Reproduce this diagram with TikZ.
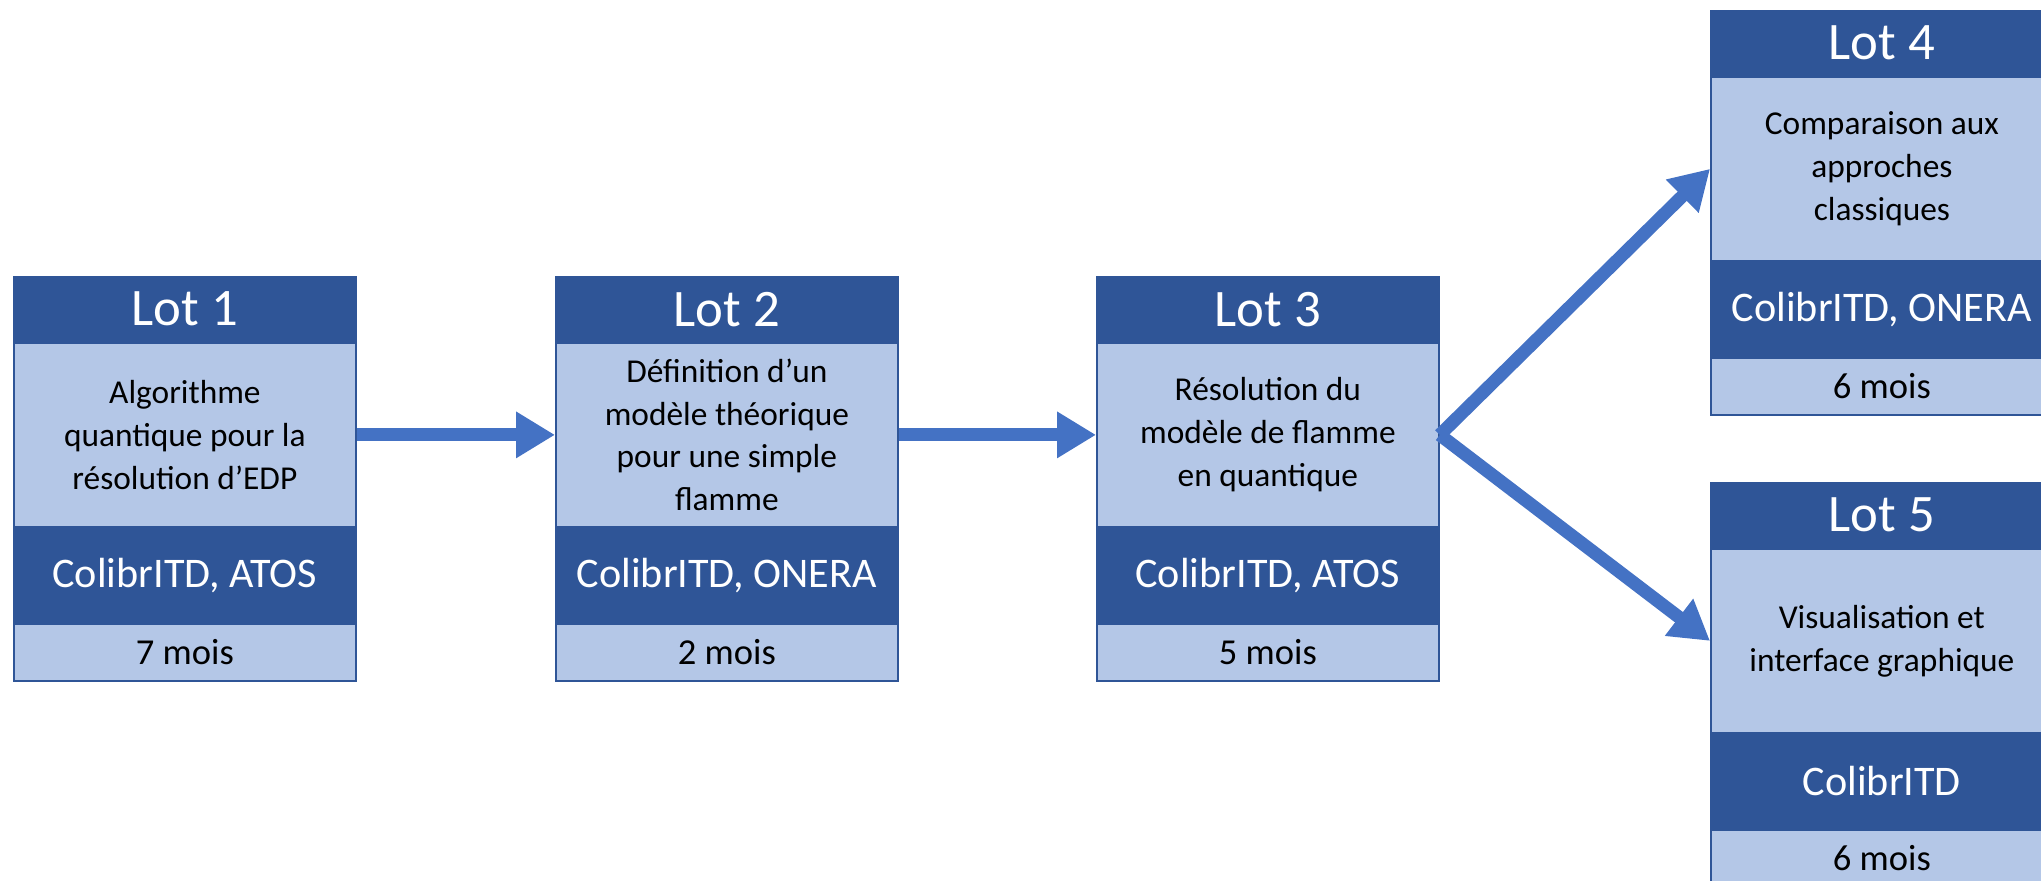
\documentclass[tikz,border=0pt]{standalone}
\usepackage{fontspec}
\setmainfont{Carlito}
\usetikzlibrary{positioning, arrows.meta}
\definecolor{lotdark}{HTML}{2F5597}
\definecolor{lotlight}{HTML}{B4C7E7}
\definecolor{lotarrow}{HTML}{4472C4}
\tikzstyle{lotbox} = [rectangle, minimum width=3.42cm, inner sep=0pt, align=center, draw=lotdark, line width=0.5pt]
\tikzstyle{lothead} = [lotbox, minimum height=0.645cm, fill=lotdark, text=white, font=\fontsize{15}{18}\selectfont]
\tikzstyle{lotdesc} = [lotbox, minimum height=1.835cm, fill=lotlight, font=\fontsize{9.5}{12.2}\selectfont]
\tikzstyle{lotpart} = [lotbox, minimum height=0.935cm, fill=lotdark, text=white, font=\fontsize{12}{14}\selectfont]
\tikzstyle{lotdur} = [lotbox, minimum height=0.575cm, fill=lotlight, font=\fontsize{10.4}{12}\selectfont]
\tikzstyle{arrow} = [line width=0.13cm, draw=lotarrow, -{Triangle[length=0.39cm, width=0.44cm]}]

\begin{document}
\begin{tikzpicture}
\useasboundingbox (0,0) rectangle (20.41,-8.81);

% Lot 1
\node (lot1head) [lothead, anchor=north west] at (0.13,-2.76) {Lot 1};
\node (lot1desc) [lotdesc, below=0pt of lot1head] {Algorithme\\quantique pour la\\résolution d’EDP};
\node (lot1part) [lotpart, below=0pt of lot1desc] {ColibrITD, ATOS};
\node (lot1dur) [lotdur, below=0pt of lot1part] {7 mois};

% Lot 2
\node (lot2head) [lothead, anchor=north west] at (5.55,-2.76) {Lot 2};
\node (lot2desc) [lotdesc, below=0pt of lot2head] {Définition d’un\\modèle théorique\\pour une simple\\flamme};
\node (lot2part) [lotpart, below=0pt of lot2desc] {ColibrITD, ONERA};
\node (lot2dur) [lotdur, below=0pt of lot2part] {2 mois};

% Lot 3
\node (lot3head) [lothead, anchor=north west] at (10.96,-2.76) {Lot 3};
\node (lot3desc) [lotdesc, below=0pt of lot3head] {Résolution du\\modèle de flamme\\en quantique};
\node (lot3part) [lotpart, below=0pt of lot3desc] {ColibrITD, ATOS};
\node (lot3dur) [lotdur, below=0pt of lot3part] {5 mois};

% Lot 4
\node (lot4head) [lothead, anchor=north west] at (17.10,-0.10) {Lot 4};
\node (lot4desc) [lotdesc, below=0pt of lot4head] {Comparaison aux\\approches\\classiques};
\node (lot4part) [lotpart, below=0pt of lot4desc] {ColibrITD, ONERA};
\node (lot4dur) [lotdur, below=0pt of lot4part] {6 mois};

% Lot 5
\node (lot5head) [lothead, anchor=north west] at (17.10,-4.82) {Lot 5};
\node (lot5desc) [lotdesc, below=0pt of lot5head] {Visualisation et\\interface graphique};
\node (lot5part) [lotpart, below=0pt of lot5desc] {ColibrITD};
\node (lot5dur) [lotdur, below=0pt of lot5part] {6 mois};

\draw [arrow] (lot1desc.east) -- (lot2desc.west);
\draw [arrow] (lot2desc.east) -- (lot3desc.west);
\draw [arrow] (lot3desc.east) -- (lot4desc.west);
\draw [arrow] (lot3desc.east) -- (lot5desc.west);

\end{tikzpicture}
\end{document}
